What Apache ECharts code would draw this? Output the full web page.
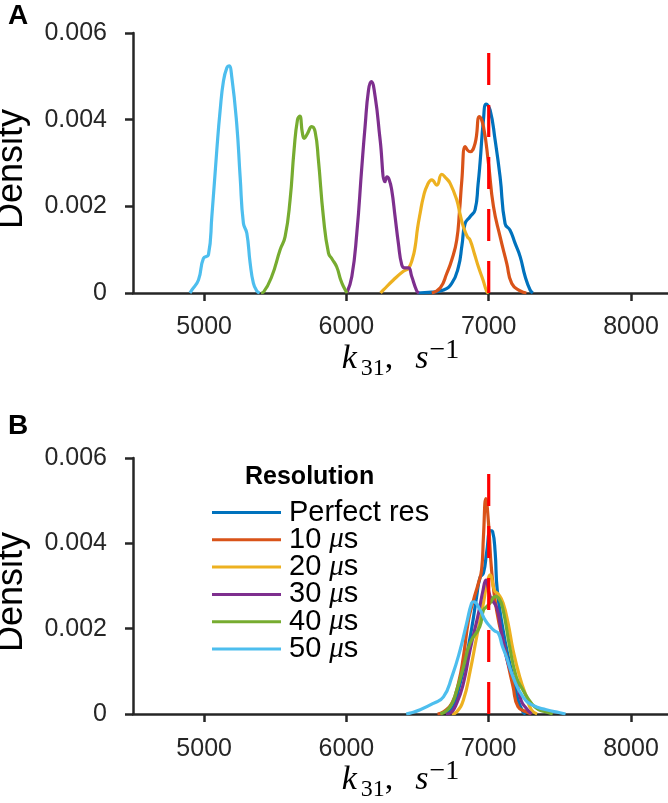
<!DOCTYPE html>
<html>
<head>
<meta charset="utf-8">
<script src="https://cdn.jsdelivr.net/npm/echarts@6/dist/echarts.min.js"></script>
<style>html,body{margin:0;padding:0;background:#fff;}#c{width:668px;height:803px;}</style>
</head>
<body>
<div id="c"></div>
<script>
// ---- Data ----
const seriesNames = ['Perfect res', '10 μs', '20 μs', '30 μs', '40 μs', '50 μs'];
const colors = ['#0072BD', '#D95319', '#EDB120', '#7E2F8E', '#77AC30', '#4DBEEE'];
const xTicks = [5000, 6000, 7000, 8000];
const yTicks = [0, 0.002, 0.004, 0.006];
const trueValue = 7000;

// Panel A: [k31, density]
const A_perfect = [[6500,0],[6600,0.00002],[6682,0.00007],[6740,0.00022],[6787,0.0006],[6812,0.0011],[6834,0.0016],[6869,0.00176],[6904,0.00192],[6925,0.0025],[6939,0.003],[6963,0.004],[6982,0.00436],[7010,0.00422],[7045,0.00353],[7080,0.00268],[7115,0.0016],[7150,0.00145],[7185,0.00115],[7221,0.00084],[7256,0.00038],[7291,0.00007],[7310,0]];
const A_10 = [[6600,0],[6660,0.00012],[6705,0.00045],[6740,0.00076],[6775,0.00122],[6795,0.0019],[6811,0.0026],[6834,0.00338],[6850,0.0033],[6869,0.00326],[6904,0.00345],[6935,0.00407],[6963,0.00384],[6998,0.003],[7033,0.002],[7080,0.0013],[7127,0.00068],[7162,0.00022],[7221,0.00005],[7265,0]];
const A_20 = [[6240,0],[6260,0.00007],[6330,0.0003],[6400,0.0005],[6436,0.00057],[6465,0.0008],[6483,0.00107],[6500,0.0015],[6518,0.00184],[6541,0.00222],[6570,0.0025],[6600,0.00261],[6635,0.00249],[6670,0.00274],[6700,0.00265],[6729,0.00253],[6775,0.00215],[6800,0.0018],[6822,0.00153],[6850,0.0013],[6869,0.00122],[6900,0.0009],[6928,0.0006],[6960,0.0003],[6987,0.00003],[7000,0]];
const A_30 = [[6003,0],[6038,0.00038],[6073,0.00138],[6108,0.0029],[6131,0.00384],[6155,0.00468],[6174,0.00488],[6202,0.00453],[6237,0.00353],[6272,0.00257],[6285,0.00268],[6300,0.00262],[6318,0.00238],[6342,0.00176],[6365,0.00115],[6389,0.00065],[6410,0.00058],[6436,0.00058],[6459,0.00038],[6494,0.00005],[6510,0]];
const A_40 = [[5400,0],[5417,0.00002],[5475,0.00038],[5534,0.001],[5569,0.0013],[5604,0.00215],[5632,0.0033],[5656,0.004],[5672,0.00408],[5690,0.0037],[5703,0.00357],[5726,0.00368],[5756,0.00384],[5780,0.00372],[5803,0.00307],[5838,0.00176],[5874,0.00092],[5900,0.00078],[5932,0.0006],[5960,0.0003],[5979,0.00015],[6005,0]];
const A_50 = [[4900,0],[4914,0.00007],[4960,0.0003],[4995,0.0008],[5030,0.00088],[5054,0.00176],[5089,0.0033],[5112,0.0042],[5136,0.0049],[5160,0.0052],[5175,0.00524],[5194,0.00499],[5229,0.0039],[5253,0.00268],[5276,0.00161],[5300,0.00138],[5323,0.0007],[5346,0.00023],[5370,0.00005],[5390,0]];

// Panel B: [k31, density]
const B_perfect = [[6700,0],[6752,0.00017],[6787,0.00056],[6834,0.0012],[6880,0.002],[6915,0.00275],[6939,0.0032],[6963,0.0033],[6986,0.0038],[7012,0.0043],[7027,0.00428],[7045,0.0038],[7060,0.0029],[7101,0.00197],[7140,0.0013],[7171,0.00087],[7206,0.00033],[7241,0.00005],[7260,0]];
const B_10 = [[6640,0],[6682,0.00005],[6741,0.00025],[6787,0.00072],[6822,0.00134],[6858,0.0022],[6893,0.00267],[6928,0.00307],[6950,0.00338],[6963,0.00416],[6980,0.00505],[6998,0.0045],[7020,0.00338],[7055,0.00244],[7115,0.0015],[7171,0.00064],[7206,0.00017],[7265,0.00005],[7300,0]];
const B_20 = [[6740,0],[6775,0.00005],[6822,0.00033],[6869,0.001],[6915,0.0018],[6963,0.0026],[6990,0.0031],[7010,0.00326],[7040,0.0029],[7070,0.0028],[7101,0.0026],[7136,0.00213],[7171,0.0015],[7218,0.00087],[7265,0.0004],[7300,0.0001],[7340,0]];
const B_30 = [[6700,0],[6729,0.00002],[6775,0.00025],[6822,0.00072],[6869,0.0015],[6928,0.00236],[6960,0.0029],[6980,0.00314],[7010,0.00275],[7055,0.0025],[7090,0.0019],[7124,0.00134],[7160,0.00095],[7194,0.00075],[7230,0.0003],[7265,0.00013],[7300,0]];
const B_40 = [[6660,0],[6729,0.00017],[6775,0.00056],[6822,0.0011],[6869,0.00166],[6937,0.00205],[6963,0.00244],[6984,0.00251],[7010,0.0026],[7045,0.00275],[7070,0.00272],[7101,0.00244],[7147,0.00158],[7194,0.00087],[7241,0.00056],[7300,0.00025],[7350,0.0001],[7405,0.00005],[7450,0]];
const B_50 = [[6420,0],[6447,0.00002],[6518,0.0001],[6611,0.00025],[6682,0.0004],[6741,0.00087],[6799,0.0015],[6845,0.00213],[6880,0.0026],[6895,0.00263],[6939,0.00244],[6975,0.0022],[7010,0.00205],[7040,0.00195],[7068,0.00189],[7095,0.0016],[7124,0.00134],[7171,0.00087],[7241,0.0004],[7312,0.0002],[7405,0.0001],[7500,0.00003],[7540,0]];

const panelA = [A_perfect, A_10, A_20, A_30, A_40, A_50];
const panelB = [B_perfect, B_10, B_20, B_30, B_40, B_50];

// ---- Chart ----
const AX = '#262626';
const FONT = 'Liberation Sans, Arial, Helvetica, sans-serif';
const SERIF = 'Liberation Serif, Times New Roman, serif';

function xAxisFor(gridIndex, labelMargin) {
  return {
    type: 'value', gridIndex: gridIndex, min: 4500, max: 8260,
    axisLine: { show: true, onZero: false, lineStyle: { color: AX, width: 2.5 } },
    axisTick: { show: true, length: 8, lineStyle: { color: AX, width: 2.5 }, customValues: xTicks },
    axisLabel: { color: AX, fontSize: 25, fontFamily: FONT, margin: labelMargin, customValues: xTicks,
      verticalAlign: 'top', formatter: v => String(v) },
    splitLine: { show: false },
    name: '{k|k}{sub|31}{c|,}{s|s}{sup|\u22121}',
    nameLocation: 'middle', nameGap: 44, nameMoveOverlap: false,
    nameTextStyle: {
      rich: {
        k: { fontFamily: SERIF, fontStyle: 'italic', fontSize: 34, lineHeight: 44, verticalAlign: 'middle', color: '#000', padding: [0, 4, 0, 0] },
        c: { fontFamily: SERIF, fontSize: 34, lineHeight: 44, verticalAlign: 'middle', color: '#000' },
        s: { fontFamily: SERIF, fontStyle: 'italic', fontSize: 34, lineHeight: 44, verticalAlign: 'middle', color: '#000', padding: [0, 1, 0, 22] },
        sub: { fontFamily: SERIF, fontSize: 24, lineHeight: 24, verticalAlign: 'bottom', color: '#000' },
        sup: { fontFamily: SERIF, fontSize: 28, lineHeight: 35, verticalAlign: 'top', color: '#000' }
      }
    }
  };
}
function yAxisFor(gridIndex) {
  return {
    type: 'value', gridIndex: gridIndex, min: 0, max: 0.006, interval: 0.002,
    axisLine: { show: true, lineStyle: { color: AX, width: 2.5 } },
    axisTick: { show: true, length: 8, lineStyle: { color: AX, width: 2.5 } },
    axisLabel: { color: AX, fontSize: 25, fontFamily: FONT, margin: 26,
      formatter: v => (v === 0 ? '0' : v.toFixed(3)) },
    splitLine: { show: false },
    name: 'Density', nameLocation: 'middle', nameGap: 103, nameMoveOverlap: false,
    nameTextStyle: { fontSize: 36, fontFamily: FONT, color: '#000', lineHeight: 36, padding: [0, 12, 0, 0] }
  };
}

const series = [];
panelA.forEach((d, i) => series.push({
  name: 'A ' + seriesNames[i], type: 'line', xAxisIndex: 0, yAxisIndex: 0, data: d,
  showSymbol: false, smooth: 0.5,
  lineStyle: { color: colors[i], width: 3.2 }, itemStyle: { color: colors[i] }, z: 2 + i
}));
panelB.forEach((d, i) => series.push({
  name: seriesNames[i], type: 'line', xAxisIndex: 1, yAxisIndex: 1, data: d,
  showSymbol: false, smooth: 0.5,
  lineStyle: { color: colors[i], width: 3.2 }, itemStyle: { color: colors[i] }, z: 2 + i
}));
[0, 1].forEach(g => series.push({
  name: 'true' + g, type: 'line', xAxisIndex: g, yAxisIndex: g,
  data: [[trueValue, yTicks[0]], [trueValue, yTicks[yTicks.length - 1]]],
  showSymbol: false, silent: true,
  lineStyle: { color: '#FF0000', width: 3.2, type: [32, 20], cap: 'butt' }, z: 20
}));

const option = {
  backgroundColor: '#fff',
  animation: false,
  title: [
    { text: 'A', left: 8, top: 2, padding: 0, textStyle: { fontSize: 28, fontWeight: 'bold', fontFamily: FONT, color: '#000' } },
    { text: 'B', left: 8, top: 412, padding: 0, textStyle: { fontSize: 28, fontWeight: 'bold', fontFamily: FONT, color: '#000' } },
    { text: 'Resolution', left: 245, top: 465, padding: 0, textStyle: { fontSize: 25, fontWeight: 'bold', fontFamily: FONT, color: '#000' } }
  ],
  grid: [
    { left: 133, right: 0, top: 33, height: 260, outerBoundsMode: 'none', containLabel: false },
    { left: 133, right: 0, top: 458, height: 256, outerBoundsMode: 'none', containLabel: false }
  ],
  xAxis: [xAxisFor(0, 22), xAxisFor(1, 23)],
  yAxis: [yAxisFor(0), yAxisFor(1)],
  legend: {
    data: seriesNames, orient: 'vertical', left: 212, top: 498, padding: 0,
    icon: 'rect', itemWidth: 69, itemHeight: 3, itemGap: -1.7, selectedMode: false,
    formatter: name => name.indexOf('μ') >= 0 ? '{n|' + name.replace(' μs', ' ') + '}{m|μ}{n|s}' : '{n|' + name + '}',
    textStyle: {
      fontSize: 29, fontFamily: FONT, color: '#000', lineHeight: 22, padding: [0, 0, 0, 3],
      rich: {
        n: { fontSize: 29, fontFamily: FONT, color: '#000', lineHeight: 22 },
        m: { fontSize: 29, fontFamily: SERIF, fontStyle: 'italic', color: '#000', lineHeight: 22 }
      }
    }
  },
  series: series
};

const chart = echarts.init(document.getElementById('c'), null, { renderer: 'canvas' });
chart.setOption(option);
</script>
</body>
</html>
